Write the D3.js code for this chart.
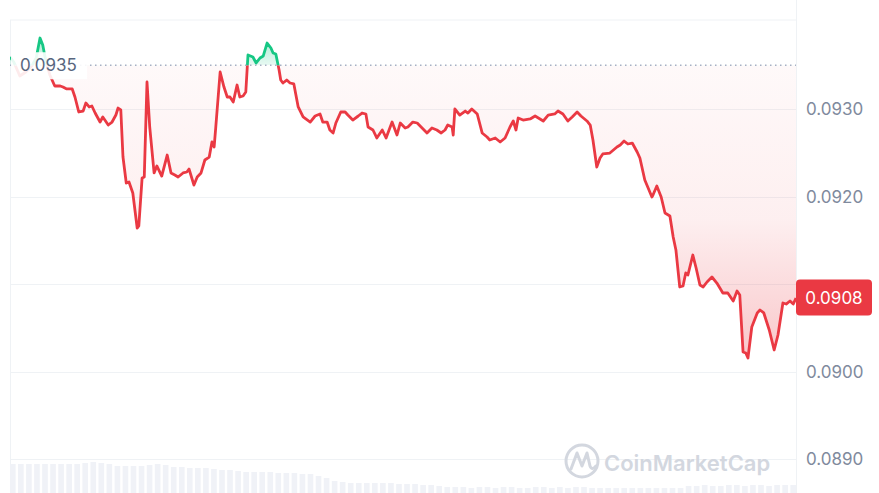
<!DOCTYPE html>
<html>
<head>
<meta charset="utf-8">
<script src="https://cdn.jsdelivr.net/npm/d3@7"></script>
<style>
  html, body { margin: 0; padding: 0; background: #fff; }
  #chart { width: 879px; height: 493px; }
  text { font-family: Inter, "Noto Sans", sans-serif; }
</style>
</head>
<body>
<div id="chart"></div>
<script>
// minutes since start of the 24h window
const minutes = [0,7,18,29,40,48,55,60,66,73,82,92,97,104,114,119,126,134,139,145,150,156,165,170,180,187,194,198,203,207,213,218,225,233,236,242,246,251,256,264,269,278,288,295,302,308,317,324,328,337,343,350,357,365,370,374,377,385,392,398,403,409,416,421,427,432,436,445,451,458,464,471,478,482,487,493,496,500,507,513,520,528,537,550,559,568,573,581,586,592,597,606,614,619,628,638,645,652,656,665,672,682,689,700,709,715,724,729,738,746,755,764,773,782,790,797,802,810,812,815,824,834,839,846,856,865,874,879,889,898,907,916,922,927,931,940,953,962,977,986,998,1004,1013,1022,1030,1039,1046,1057,1063,1068,1075,1081,1086,1099,1112,1118,1125,1132,1140,1149,1154,1163,1176,1178,1185,1193,1200,1209,1215,1220,1227,1233,1238,1242,1251,1257,1264,1270,1277,1286,1295,1306,1315,1325,1332,1337,1343,1348,1352,1359,1369,1374,1381,1391,1400,1407,1416,1422,1429,1435,1440];
const prices = [0.093594,0.093537,0.093377,0.093423,0.093491,0.093583,0.093811,0.093731,0.093537,0.093389,0.093263,0.093263,0.093251,0.093229,0.093229,0.093137,0.092966,0.092977,0.093069,0.093023,0.093034,0.092954,0.092851,0.092909,0.092817,0.092851,0.092931,0.093011,0.092989,0.092451,0.092154,0.092166,0.092040,0.091640,0.091663,0.092211,0.092223,0.093309,0.092794,0.092269,0.092349,0.092234,0.092474,0.092269,0.092246,0.092223,0.092269,0.092280,0.092314,0.092131,0.092223,0.092269,0.092417,0.092451,0.092623,0.092566,0.092794,0.093423,0.093251,0.093137,0.093137,0.093080,0.093274,0.093137,0.093149,0.093194,0.093617,0.093594,0.093526,0.093583,0.093606,0.093754,0.093697,0.093640,0.093629,0.093446,0.093331,0.093297,0.093331,0.093297,0.093286,0.093023,0.092909,0.092851,0.092920,0.092943,0.092851,0.092851,0.092760,0.092726,0.092840,0.092966,0.092966,0.092931,0.092874,0.092920,0.092954,0.092943,0.092794,0.092760,0.092669,0.092760,0.092669,0.092851,0.092703,0.092840,0.092783,0.092794,0.092851,0.092840,0.092783,0.092726,0.092783,0.092760,0.092726,0.092760,0.092817,0.092794,0.092703,0.093000,0.092931,0.092977,0.092954,0.093000,0.092943,0.092726,0.092680,0.092646,0.092669,0.092623,0.092669,0.092794,0.092863,0.092760,0.092897,0.092874,0.092886,0.092920,0.092863,0.092931,0.092943,0.092977,0.092943,0.092863,0.092909,0.092966,0.092920,0.092863,0.092817,0.092646,0.092337,0.092440,0.092486,0.092497,0.092566,0.092589,0.092634,0.092600,0.092611,0.092509,0.092440,0.092189,0.091994,0.092017,0.092120,0.091994,0.091811,0.091777,0.091537,0.091389,0.090966,0.090977,0.091126,0.091103,0.091331,0.091183,0.090989,0.090966,0.091023,0.091080,0.091011,0.090897,0.090897,0.090806,0.090920,0.090874,0.090223,0.090211,0.090154,0.090509,0.090669,0.090703,0.090669,0.090474,0.090246,0.090417,0.090783,0.090771,0.090806,0.090771,0.090840];

// volume, one bar per ~15 min, arbitrary units
const volumes = [29,29,29,29,29,29,29,29,29,30,31,30,29,27,27,27,27,28,29,28,26,26,25,25,25,24,23,23,22,21,21,21,21,20,20,20,19,19,17,15,12,11,10,10,10,10,10,10,9,9,9,8,8,7,6,6,6,5,6,6,5,6,6,5,5,6,6,5,6,5,6,6,5,5,5,5,5,5,5,5,5,5,5,5,7,7,8,7,7,8,8,7,8,8,7,8,8,8];

const openPrice = 0.0935;
const lastPrice = 0.0908;
const yTicks = [0.0930, 0.0920, 0.0910, 0.0900, 0.0890];
const yTickLabels = ["0.0930", "0.0920", "", "0.0900", "0.0890"];

const W = 879, H = 493;
const plotL = 10, plotR = 796, plotT = 20;
const red = "#ea3943", green = "#16c784";

const svg = d3.select("#chart").append("svg")
    .attr("width", W).attr("height", H)
    .attr("viewBox", `0 0 ${W} ${H}`);

const x = d3.scaleLinear().domain([0, 1440]).range([plotL, plotR]);
const y = d3.scaleLinear().domain([0.0890, 0.0930]).range([459, 109]);
const xb = d3.scaleBand().domain(d3.range(volumes.length)).range([plotL, plotR]).paddingInner(0.3);
const yv = d3.scaleLinear().domain([0, 31]).range([H, 462]);

const data = minutes.map((m, i) => ({t: m, p: prices[i]}));
const yBase = y(openPrice);

// gradients
const defs = svg.append("defs");
const gRed = defs.append("linearGradient").attr("id", "gRed")
    .attr("gradientUnits", "userSpaceOnUse").attr("x1", 0).attr("x2", 0)
    .attr("y1", yBase).attr("y2", y(0.0900));
gRed.append("stop").attr("offset", 0).attr("stop-color", red).attr("stop-opacity", 0.03);
gRed.append("stop").attr("offset", 0.5).attr("stop-color", red).attr("stop-opacity", 0.08);
gRed.append("stop").attr("offset", 1).attr("stop-color", red).attr("stop-opacity", 0.3);
const gGreen = defs.append("linearGradient").attr("id", "gGreen")
    .attr("gradientUnits", "userSpaceOnUse").attr("x1", 0).attr("x2", 0)
    .attr("y1", yBase).attr("y2", y(0.0938));
gGreen.append("stop").attr("offset", 0).attr("stop-color", green).attr("stop-opacity", 0.1);
gGreen.append("stop").attr("offset", 1).attr("stop-color", green).attr("stop-opacity", 0.35);

defs.append("clipPath").attr("id", "clipAbove").append("rect")
    .attr("x", plotL).attr("y", 0).attr("width", plotR - plotL).attr("height", yBase);
defs.append("clipPath").attr("id", "clipBelow").append("rect")
    .attr("x", plotL).attr("y", yBase).attr("width", plotR - plotL).attr("height", H - yBase);

// frame + grid
svg.append("line").attr("x1", plotL).attr("x2", plotR).attr("y1", plotT).attr("y2", plotT)
    .attr("stroke", "#eff2f5");
svg.append("line").attr("x1", plotL + 0.5).attr("x2", plotL + 0.5).attr("y1", plotT).attr("y2", H)
    .attr("stroke", "#eff2f5");
svg.append("line").attr("x1", plotR + 0.5).attr("x2", plotR + 0.5).attr("y1", 0).attr("y2", H)
    .attr("stroke", "#eff2f5");
svg.append("g").selectAll("line").data(yTicks).join("line")
    .attr("x1", plotL).attr("x2", plotR)
    .attr("y1", d => Math.round(y(d)) + 0.5).attr("y2", d => Math.round(y(d)) + 0.5)
    .attr("stroke", "#eff2f5");

// volume bars
svg.append("g").selectAll("rect").data(volumes).join("rect")
    .attr("x", (d, i) => xb(i)).attr("width", xb.bandwidth())
    .attr("y", d => yv(d)).attr("height", d => H - yv(d))
    .attr("fill", "#f0f2f7");

// watermark
const wm = svg.append("g").attr("fill", "none").attr("stroke", "#d3d7df");
wm.append("circle").attr("cx", 582).attr("cy", 461).attr("r", 16).attr("stroke-width", 3);
wm.append("path").attr("stroke-width", 3).attr("stroke-linecap", "round").attr("stroke-linejoin", "round")
    .attr("d", "M571,469 L577,453 L582,466 L587,453 L590,466 Q592,471 596,466");
svg.append("text").attr("x", 604).attr("y", 471)
    .attr("font-size", 22).attr("font-weight", 600).attr("fill", "#d3d7df")
    .text("CoinMarketCap");

// area + line
const area = d3.area().x(d => x(d.t)).y0(yBase).y1(d => y(d.p)).curve(d3.curveLinear);
const line = d3.line().x(d => x(d.t)).y(d => y(d.p)).curve(d3.curveLinear);

svg.append("path").datum(data).attr("d", area).attr("fill", "url(#gRed)").attr("clip-path", "url(#clipBelow)");
svg.append("path").datum(data).attr("d", area).attr("fill", "url(#gGreen)").attr("clip-path", "url(#clipAbove)");
svg.append("path").datum(data).attr("d", line).attr("fill", "none").attr("stroke", red)
    .attr("stroke-width", 2.8).attr("stroke-linejoin", "round").attr("clip-path", "url(#clipBelow)");
svg.append("path").datum(data).attr("d", line).attr("fill", "none").attr("stroke", green)
    .attr("stroke-width", 2.8).attr("stroke-linejoin", "round").attr("clip-path", "url(#clipAbove)");

// baseline (open price)
svg.append("line").attr("x1", plotL).attr("x2", plotR).attr("y1", yBase).attr("y2", yBase)
    .attr("stroke", "#a6b0c3").attr("stroke-width", 1.5).attr("stroke-dasharray", "1.5,3.5");
svg.append("rect").attr("x", plotL + 1).attr("y", yBase - 13).attr("width", 76).attr("height", 27)
    .attr("fill", "#fff").attr("opacity", 0.9);
svg.append("text").attr("x", 20).attr("y", yBase).attr("dy", "0.36em")
    .attr("font-size", 17).attr("fill", "#58667e").text(d3.format(".4f")(openPrice));

// right axis labels
svg.append("g").selectAll("text").data(yTicks.filter((d, i) => yTickLabels[i])).join("text")
    .attr("x", 806).attr("y", d => y(d)).attr("dy", "0.36em")
    .attr("font-size", 17).attr("fill", "#808a9d")
    .text(d => yTickLabels[yTicks.indexOf(d)]);

// last price badge
const yl = y(lastPrice) - 4;
svg.append("rect").attr("x", plotR).attr("y", yl - 18).attr("width", 76).attr("height", 36)
    .attr("rx", 4).attr("fill", red);
svg.append("text").attr("x", plotR + 38).attr("y", yl).attr("dy", "0.36em")
    .attr("text-anchor", "middle").attr("font-size", 17).attr("fill", "#fff")
    .text(d3.format(".4f")(lastPrice));
</script>
</body>
</html>
